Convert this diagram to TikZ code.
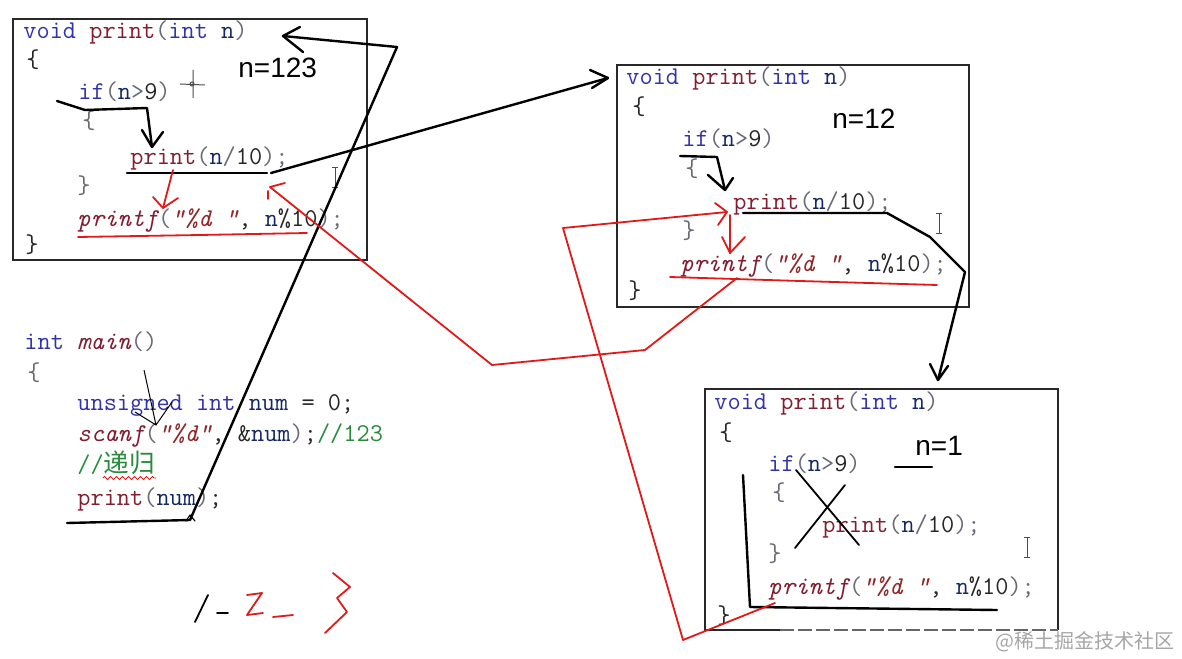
\documentclass[tikz,border=0pt]{standalone}
\usepackage{fontspec}
\usepackage{xcolor}
\newfontfamily\handfont{Liberation Sans}
\newfontfamily\cjk{Noto Sans CJK SC}
\usetikzlibrary{positioning,decorations.pathmorphing}
\definecolor{kwblue}{RGB}{50,50,170}
\definecolor{fnred}{RGB}{130,30,50}
\definecolor{varblue}{RGB}{20,40,100}
\definecolor{pungray}{RGB}{105,105,120}
\definecolor{strred}{RGB}{145,40,40}
\definecolor{comgreen}{RGB}{40,140,60}
\definecolor{inkred}{RGB}{225,25,25}
\definecolor{framegray}{RGB}{40,40,40}

\newcommand{\ckw}[1]{\textcolor{kwblue}{#1}}
\newcommand{\cfn}[1]{\textcolor{fnred}{#1}}
\newcommand{\cvar}[1]{\textcolor{varblue}{#1}}
\newcommand{\cpun}[1]{\textcolor{pungray}{#1}}
\newcommand{\cstr}[1]{\textcolor{strred}{#1}}
\newcommand{\ccom}[1]{\textcolor{comgreen}{#1}}

\tikzset{
  code/.style={anchor=base west, inner sep=0pt, text=black!85,
    font=\ttfamily\fontsize{12.8}{15}\selectfont},
  codebox/.style={draw=framegray, line width=0.7pt},
  note/.style={anchor=base west, inner sep=0pt,
    font=\handfont\fontsize{14}{16}\selectfont},
  ink/.style={black, line width=1.2pt, line cap=round, line join=round},
  redink/.style={inkred, line width=0.9pt, line cap=round, line join=round},
  ibeam/.style={black!70, line width=0.5pt},
}

\begin{document}
\begin{tikzpicture}[x=0.5pt, y=-0.5pt]
\useasboundingbox[fill=white] (0,0) rectangle (1182,658);

% first call, n=123
\draw[codebox] (13,19) rectangle (367,260);
\node[code] (b1void) at (23,39) {\ckw{void} \cfn{print}\cpun{(}\ckw{int} \cvar{n}\cpun{)}};
\node[code] (b1open) at (26,68) {\{};
\node[code] (b1if) at (78,100) {\ckw{if}\cpun{(}\cvar{n}\cpun{>}9\cpun{)}};
\node[code] (b1lb) at (82,128) {\cpun{\{}};
\node[code] (b1call) at (130,164) {\cfn{print}\cpun{(}\cvar{n}\cpun{/}10\cpun{)}\cpun{;}};
\node[code] (b1rb) at (77,193) {\cpun{\}}};
\node[code] (b1out) at (77,226) {\cfn{\itshape printf}\cpun{(}\cstr{\itshape ”\%d ”}, \cvar{n}\%10\cpun{)}\cpun{;}};
\node[code] (b1close) at (25,252) {\}};
\node[note] (b1n) at (238,78) {n=123};

% second call, n=12
\draw[codebox] (617,65) rectangle (969,307);
\node[code] (b2void) at (626,85) {\ckw{void} \cfn{print}\cpun{(}\ckw{int} \cvar{n}\cpun{)}};
\node[code] (b2open) at (632,114) {\{};
\node[code] (b2if) at (682,147) {\ckw{if}\cpun{(}\cvar{n}\cpun{>}9\cpun{)}};
\node[code] (b2lb) at (685,176) {\cpun{\{}};
\node[code] (b2call) at (733,209) {\cfn{print}\cpun{(}\cvar{n}\cpun{/}10\cpun{)}\cpun{;}};
\node[code] (b2rb) at (682,238) {\cpun{\}}};
\node[code] (b2out) at (680,271) {\cfn{\itshape printf}\cpun{(}\cstr{\itshape ”\%d ”}, \cvar{n}\%10\cpun{)}\cpun{;}};
\node[code] (b2close) at (628,298) {\}};
\node[note] (b2n) at (832,128) {n=12};

% third call, n=1
\draw[codebox] (780,630) -- (705,630) -- (705,389) -- (1058,389) -- (1058,630);
\draw[codebox, black!60, dash pattern=on 7pt off 2pt] (780,630) -- (1058,630);
\node[code] (b3void) at (714,409) {\ckw{void} \cfn{print}\cpun{(}\ckw{int} \cvar{n}\cpun{)}};
\node[code] (b3open) at (719,440) {\{};
\node[code] (b3if) at (768,471) {\ckw{if}\cpun{(}\cvar{n}\cpun{>}9\cpun{)}};
\node[code] (b3lb) at (772,500) {\cpun{\{}};
\node[code] (b3call) at (822,532) {\cfn{print}\cpun{(}\cvar{n}\cpun{/}10\cpun{)}\cpun{;}};
\node[code] (b3rb) at (768,561) {\cpun{\}}};
\node[code] (b3out) at (768,594) {\cfn{\itshape printf}\cpun{(}\cstr{\itshape ”\%d ”}, \cvar{n}\%10\cpun{)}\cpun{;}};
\node[code] (b3close) at (717,623) {\}};
\node[note] (b3n) at (915,455) {n=1};

% main
\node[code] (mhead) at (24,349) {\ckw{int} \cfn{\itshape main}\cpun{()}};
\node[code] (mopen) at (27,380) {\cpun{\{}};
\node[code] (mdecl) at (77,410) {\ckw{unsigned} \ckw{int} \cvar{num} = 0;};
\node[code] (mscan) at (77,441) {\cfn{\itshape scanf}\cpun{(}\cstr{\itshape ”\%d”}, \&\cvar{num}\cpun{)};\ccom{//123}};
\node[code] (mcom) at (77,472) {\ccom{//{\cjk 递归}}};
\node[code] (mcall) at (77,505) {\cfn{print}\cpun{(}\cvar{num}\cpun{)};};
\draw[inkred, line width=0.4pt, decorate, decoration={zigzag, segment length=3pt, amplitude=0.8pt}] (103,478) -- (156,478);

% cursors
\draw[ibeam] (193,70) -- (193,98) (180,84) -- (205,85);
\draw[ibeam] (192,84) circle (2);
\foreach \cx/\cy in {335/167, 939/213, 1027/537} {
  \draw[ibeam] (\cx,\cy) -- (\cx,\cy+20)
    (\cx-3,\cy) -- (\cx+3,\cy) (\cx-3,\cy+20) -- (\cx+3,\cy+20);
}

% black strokes: calls going down
\draw[ink] (57,101) -- (85,110) -- (147,108) -- (152,147);
\draw[ink] (142,130) -- (152,147) -- (163,132);
\draw[ink] (127,173) -- (267,173);
\draw[ink] (271,173) -- (608,78);
\draw[ink] (590,70) -- (608,78) -- (592,88);
\draw[ink] (680,156) -- (717,157) -- (725,190);
\draw[ink] (708,175) -- (725,190) -- (733,178);
\draw[ink] (743,213) -- (887,213) -- (930,237) -- (965,272) -- (938,380);
\draw[ink] (930,364) -- (938,380) -- (948,366);
\draw[ink] (895,467) -- (932,467);
\draw[ink, line width=0.9pt] (796,470) -- (859,545) (845,485) -- (795,548);
\draw[ink] (743,475) -- (750,607) -- (997,610);

% black strokes: main into first call
\draw[ink] (67,523) -- (190,520) -- (397,47) -- (283,36);
\draw[ink] (300,27) -- (283,36) -- (303,52);
\draw[ink, line width=0.6pt] (186,521) -- (190,515) -- (195,521);
\draw[black, line width=0.5pt] (144,370) -- (156,425) (135,412) -- (156,425) -- (172,402);

% red strokes: returns
\draw[redink] (173,170) -- (163,208);
\draw[redink] (153,197) -- (163,208) -- (178,198);
\draw[redink] (78,237) -- (200,235) -- (307,233);
\draw[redink] (737,278) -- (645,350) -- (492,365) -- (270,187);
\draw[redink] (270,187) -- (285,183) (268,191) -- (268,199);
\draw[redink] (730,215) -- (730,253);
\draw[redink] (722,237) -- (730,253) -- (745,237);
\draw[redink] (670,277) -- (800,281) -- (937,285);
\draw[redink] (775,603) -- (683,640) -- (563,228) -- (727,212);
\draw[redink] (715,203) -- (727,212) -- (718,225);

% output 1-2-3
\draw[ink, line width=0.9pt] (208,595) -- (195,622);
\draw[ink, line width=0.9pt] (217,613) -- (228,613);
\draw[redink] (247,595) -- (262,593) -- (247,615) -- (263,613);
\draw[redink] (273,617) -- (293,615);
\draw[redink] (333,573) -- (350,587) -- (337,598) -- (347,612) -- (325,633);

% watermark
\node[anchor=base east, inner sep=0pt, text=black!35, font=\cjk\fontsize{10}{12}\selectfont] (mark) at (1175,648) {@稀土掘金技术社区};
\end{tikzpicture}
\end{document}
